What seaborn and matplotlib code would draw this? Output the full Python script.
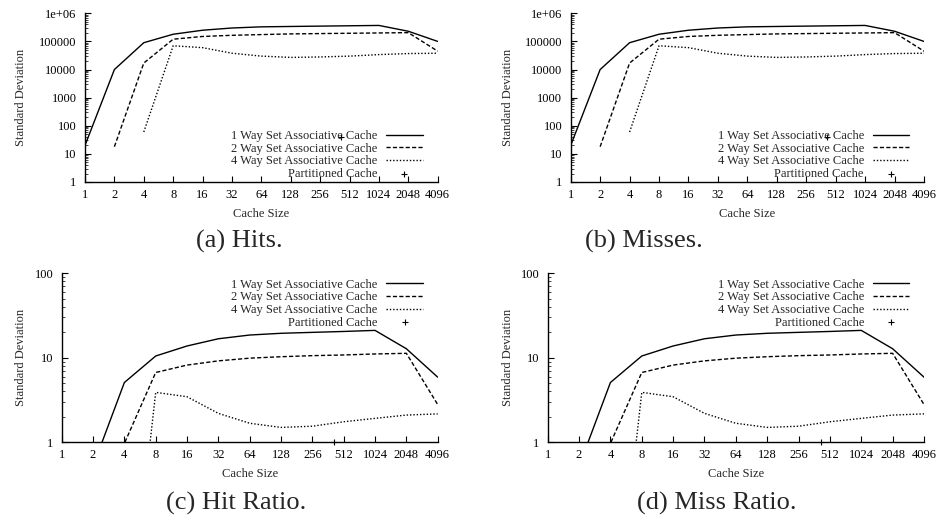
import numpy as np
import pandas as pd
import matplotlib
matplotlib.use("Agg")
import matplotlib.pyplot as plt
import seaborn as sns
from matplotlib.transforms import blended_transform_factory
from matplotlib.ticker import LogLocator, NullLocator, NullFormatter

nan = np.nan

# ---------------- data ----------------
cache_sizes = [1, 2, 4, 8, 16, 32, 64, 128, 256, 512, 1024, 2048, 4096]
x_tick_labels = ["1", "2", "4", "8", "16", "32", "64", "128", "256", "512", "1024", "2048", "4096"]

series_names = ["1 Way Set Associative Cache", "2 Way Set Associative Cache",
                "4 Way Set Associative Cache", "Partitioned Cache"]

# (a) Hits
hits_1way = [20, 10000, 90000, 180000, 250000, 300000, 330000, 340000, 350000, 360000, 370000, 230000, 100000]
hits_2way = [nan, 18, 17000, 120000, 150000, 165000, 175000, 185000, 190000, 195000, 200000, 205000, 45000]
hits_4way = [nan, nan, 60, 70000, 60000, 38000, 30000, 27000, 28000, 30000, 34000, 37000, 38000]
hits_part_x = [416]
hits_part_y = [40]

# (b) Misses
misses_1way = [20, 10000, 90000, 180000, 250000, 300000, 330000, 340000, 350000, 360000, 370000, 230000, 100000]
misses_2way = [nan, 18, 17000, 120000, 150000, 165000, 175000, 185000, 190000, 195000, 200000, 205000, 45000]
misses_4way = [nan, nan, 60, 70000, 60000, 38000, 30000, 27000, 28000, 30000, 34000, 37000, 38000]
misses_part_x = [416]
misses_part_y = [40]

# (c) Hit Ratio
hitratio_1way = [0.05, 0.52, 5.1, 10.5, 13.8, 16.8, 18.6, 19.5, 20.0, 20.5, 21.1, 12.8, 5.9]
hitratio_2way = [nan, 0.02, 0.97, 6.7, 8.2, 9.2, 9.9, 10.3, 10.6, 10.8, 11.1, 11.3, 2.8]
hitratio_4way = [nan, nan, 0.002, 3.9, 3.46, 2.2, 1.68, 1.5, 1.55, 1.75, 1.92, 2.1, 2.17]
hitratio_part_x = [416]
hitratio_part_y = [1.0]

# (d) Miss Ratio
missratio_1way = [0.05, 0.52, 5.1, 10.5, 13.8, 16.8, 18.6, 19.5, 20.0, 20.5, 21.1, 12.8, 5.9]
missratio_2way = [nan, 0.02, 0.97, 6.7, 8.2, 9.2, 9.9, 10.3, 10.6, 10.8, 11.1, 11.3, 2.8]
missratio_4way = [nan, nan, 0.002, 3.9, 3.46, 2.2, 1.68, 1.5, 1.55, 1.75, 1.92, 2.1, 2.17]
missratio_part_x = [416]
missratio_part_y = [1.0]

count_yticks = [1, 10, 100, 1000, 10000, 100000, 1000000]
count_ytick_labels = ["1", "10", "100", "1000", "10000", "100000", "1e+06"]
ratio_yticks = [1, 10, 100]
ratio_ytick_labels = ["1", "10", "100"]

captions = ["(a) Hits.", "(b) Misses.", "(c) Hit Ratio.", "(d) Miss Ratio."]

# ---------------- style ----------------
sns.set_style("ticks")
plt.rcParams["font.family"] = ["Liberation Serif", "DejaVu Serif"]
FS = 9.0

W, H = 938, 516
fig = plt.figure(figsize=(W / 100, H / 100), dpi=100)


def px_axes(x0, x1, ytop, ybot):
    return fig.add_axes([x0 / W, (H - ybot) / H, (x1 - x0) / W, (ybot - ytop) / H])


panels = [
    dict(box=(85, 437.7, 13.3, 182), data=(hits_1way, hits_2way, hits_4way, hits_part_x, hits_part_y),
         yt=count_yticks, ytl=count_ytick_labels, ylim=(1, 1e6), legloc="lower right",
         legbb=(0.957, 0.012), ylab_x=27, xlab_y=208),
    dict(box=(570.7, 924, 13.3, 182), data=(misses_1way, misses_2way, misses_4way, misses_part_x, misses_part_y),
         yt=count_yticks, ytl=count_ytick_labels, ylim=(1, 1e6), legloc="lower right",
         legbb=(0.957, 0.012), ylab_x=514, xlab_y=208),
    dict(box=(61.7, 437.7, 273.3, 442.3), data=(hitratio_1way, hitratio_2way, hitratio_4way, hitratio_part_x, hitratio_part_y),
         yt=ratio_yticks, ytl=ratio_ytick_labels, ylim=(1, 100), legloc="upper right",
         legbb=(0.96, 0.968), ylab_x=27, xlab_y=468),
    dict(box=(547.7, 924, 273.3, 442.3), data=(missratio_1way, missratio_2way, missratio_4way, missratio_part_x, missratio_part_y),
         yt=ratio_yticks, ytl=ratio_ytick_labels, ylim=(1, 100), legloc="upper right",
         legbb=(0.96, 0.968), ylab_x=514, xlab_y=468),
]

line_styles = ["-", (0, (3.0, 1.6)), (0, (1.0, 1.4))]

for p in panels:
    ax = px_axes(*p["box"])
    s1, s2, s4, px_, py_ = p["data"]
    for vals, name, ls in zip((s1, s2, s4), series_names[:3], line_styles):
        df = pd.DataFrame({"size": cache_sizes, "std": vals}).dropna()
        sns.lineplot(data=df, x="size", y="std", ax=ax, color="black", linewidth=1.0,
                     linestyle=ls, label=name, estimator=None, sort=True)
    dpart = pd.DataFrame({"size": px_, "std": py_})
    sns.scatterplot(data=dpart, x="size", y="std", ax=ax, color="black", marker="+",
                    s=14, linewidth=0.8, label=series_names[3], clip_on=False, zorder=5)

    ax.set_xscale("log", base=2)
    ax.set_yscale("log")
    ax.set_xlim(1, 4096)
    ax.set_ylim(*p["ylim"])
    ax.set_xticks(cache_sizes)
    ax.set_xticklabels(x_tick_labels)
    ax.xaxis.set_minor_locator(NullLocator())
    ax.set_yticks(p["yt"])
    ax.set_yticklabels(p["ytl"])
    ax.yaxis.set_minor_locator(LogLocator(base=10, subs=np.arange(2, 10)))
    ax.yaxis.set_minor_formatter(NullFormatter())

    ax.tick_params(axis="both", which="major", direction="in", length=4, width=0.8,
                   labelsize=FS, pad=6, colors="black")
    ax.tick_params(axis="y", which="minor", direction="in", length=2, width=0.6)
    ax.tick_params(axis="x", which="major", pad=5)
    for side in ("top", "right"):
        ax.spines[side].set_visible(False)
    for side in ("left", "bottom"):
        ax.spines[side].set_linewidth(1.0)
        ax.spines[side].set_color("black")
    ax.set_facecolor("white")

    ax.set_xlabel("Cache Size", fontsize=FS)
    ax.set_ylabel("Standard Deviation", fontsize=FS)
    ax.yaxis.set_label_coords(p["ylab_x"] / W, 0.5,
                              transform=blended_transform_factory(fig.transFigure, ax.transAxes))
    ax.xaxis.set_label_coords(0.5, (H - p["xlab_y"]) / H,
                              transform=blended_transform_factory(ax.transAxes, fig.transFigure))

    leg = ax.legend(loc=p["legloc"], bbox_to_anchor=p["legbb"], frameon=False, markerfirst=False,
                    fontsize=FS, handlelength=2.9, handletextpad=0.7, labelspacing=0.05,
                    borderpad=0.0, borderaxespad=0.0, scatterpoints=1)

caption_pos = [(239, 241), (644, 241), (236, 503), (717, 503)]
for txt, (cx, cy) in zip(captions, caption_pos):
    fig.text(cx / W, (H - cy) / H, txt, ha="center", va="center", fontsize=19)

fig.savefig("out.png", dpi=100, facecolor="white")
